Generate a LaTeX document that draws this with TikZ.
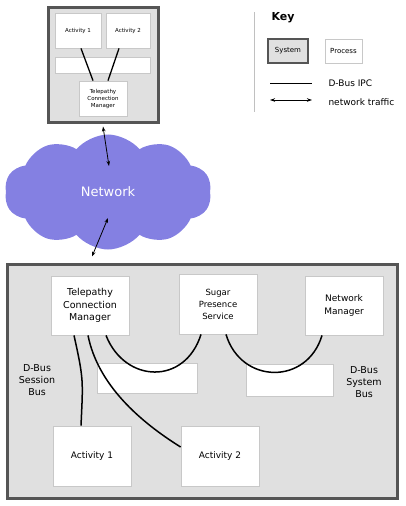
\documentclass[tikz,border=0pt]{standalone}
\usepackage{fontspec}
\setmainfont{DejaVu Sans}
\usetikzlibrary{shapes.symbols,arrows.meta}
\definecolor{sysfill}{HTML}{E0E0E0}
\definecolor{sysline}{HTML}{555555}
\definecolor{procline}{HTML}{C8C8C8}
\definecolor{keyline}{HTML}{C0C0C0}
\definecolor{netblue}{HTML}{8480E2}
\begin{document}
\begin{tikzpicture}[x=1pt,y=-1pt,
  sysbox/.style={draw=sysline,line width=3pt,fill=sysfill,inner sep=0pt},
  procbox/.style={draw=procline,line width=0.8pt,fill=white,inner sep=0pt,align=center},
  ipc/.style={line width=1.5pt},
  traffic/.style={line width=0.8pt,{Stealth[length=5pt,width=3.5pt]}-{Stealth[length=5pt,width=3.5pt]}}]
  \useasboundingbox (0,0) rectangle (405,506);
  % Small system
  \node[sysbox,minimum width=110pt,minimum height=115pt] (top) at (103,64.5) {};
  \node[procbox,minimum width=46pt,minimum height=35pt,font=\fontsize{5.5}{7}\selectfont] (a1s) at (78,30.5) {Activity 1};
  \node[procbox,minimum width=44pt,minimum height=35pt,font=\fontsize{5.5}{7}\selectfont] (a2s) at (128,30.5) {Activity 2};
  \node[procbox,minimum width=95pt,minimum height=16pt] (bars) at (102.5,65) {};
  \node[procbox,minimum width=48pt,minimum height=35pt,font=\fontsize{5.5}{7}\selectfont] (tcms) at (103,98.5) {Telepathy\\Connection\\Manager};
  \draw[ipc,line width=1.3pt] ([xshift=3pt]a1s.south) -- ([xshift=-10pt]tcms.north);
  \draw[ipc,line width=1.3pt] ([xshift=-9pt]a2s.south) -- ([xshift=5pt]tcms.north);
  % Key
  \draw[keyline,line width=1pt] (254,12) -- (254,112);
  \node[anchor=west,font=\bfseries\fontsize{11}{13}\selectfont] (key) at (268,18) {Key};
  \node[sysbox,line width=2.2pt,minimum width=40pt,minimum height=24pt,font=\fontsize{7}{9}\selectfont] (keysys) at (288,51) {System};
  \node[procbox,minimum width=37pt,minimum height=24pt,font=\fontsize{7}{9}\selectfont] (keyproc) at (343.5,51) {Process};
  \coordinate (k1) at (270,83);
  \coordinate (k2) at (312,83);
  \coordinate (k3) at (270,100);
  \coordinate (k4) at (312,100);
  \draw[ipc,line width=1pt] (k1) -- (k2);
  \draw[traffic] (k3) -- (k4);
  \node[anchor=west,font=\fontsize{9}{10}\selectfont] (kipc) at (325,83) {D-Bus IPC};
  \node[anchor=west,font=\fontsize{9}{10}\selectfont] (ktraffic) at (325,102) {network traffic};
  % Network
  \node[cloud,cloud puffs=10,cloud puff arc=100,aspect=1.8,fill=netblue,minimum width=207pt,minimum height=115pt,
    text=white,font=\fontsize{13}{15}\selectfont] (net) at (108,192) {Network};
  \draw[traffic] ([yshift=-3pt]top.south) -- ([shift={(1pt,26pt)}]net.center);
  % Large system
  \node[sysbox,minimum width=390pt,minimum height=234pt] (bot) at (202,381) {};
  \draw[traffic] ([yshift=-26pt]net.center) -- ([shift={(-110pt,6pt)}]bot.north);
  \node[procbox,minimum width=78pt,minimum height=59pt,font=\fontsize{9.5}{12.5}\selectfont] (tcm) at (90,305.5) {Telepathy\\Connection\\Manager};
  \node[procbox,minimum width=78pt,minimum height=60pt,font=\fontsize{8.5}{12}\selectfont] (sps) at (218,304) {Sugar\\Presence\\Service};
  \node[procbox,minimum width=78pt,minimum height=59pt,font=\fontsize{9}{13}\selectfont] (nm) at (344,305.5) {Network\\Manager};
  \node[procbox,minimum width=100pt,minimum height=30pt] (bar1) at (147,378) {};
  \node[procbox,minimum width=87pt,minimum height=32pt] (bar2) at (289.5,380) {};
  \node[procbox,minimum width=78pt,minimum height=60pt,font=\fontsize{9}{12}\selectfont] (act1) at (92,456) {Activity 1};
  \node[procbox,minimum width=78pt,minimum height=60pt,font=\fontsize{9}{12}\selectfont] (act2) at (220,456) {Activity 2};
  \node[align=center,font=\fontsize{9.5}{12}\selectfont] (session) at (37,380) {D-Bus\\Session\\Bus};
  \node[align=center,font=\fontsize{9.5}{12}\selectfont] (sysbus) at (364,382) {D-Bus\\System\\Bus};
  \draw[ipc] ([xshift=-16pt]tcm.south) .. controls +(10,45) and +(2,-45) .. ([xshift=-11pt]act1.north);
  \draw[ipc] ([xshift=-2pt]tcm.south) .. controls +(10,50) and +(-40,-25) .. ([yshift=9pt]act2.west);
  \draw[ipc] ([xshift=16pt]tcm.south) .. controls +(19,48) and +(-16,51) .. ([xshift=-17pt]sps.south);
  \draw[ipc] ([xshift=8pt]sps.south) .. controls +(15,50) and +(-15,50) .. ([xshift=-22pt]nm.south);
\end{tikzpicture}
\end{document}
